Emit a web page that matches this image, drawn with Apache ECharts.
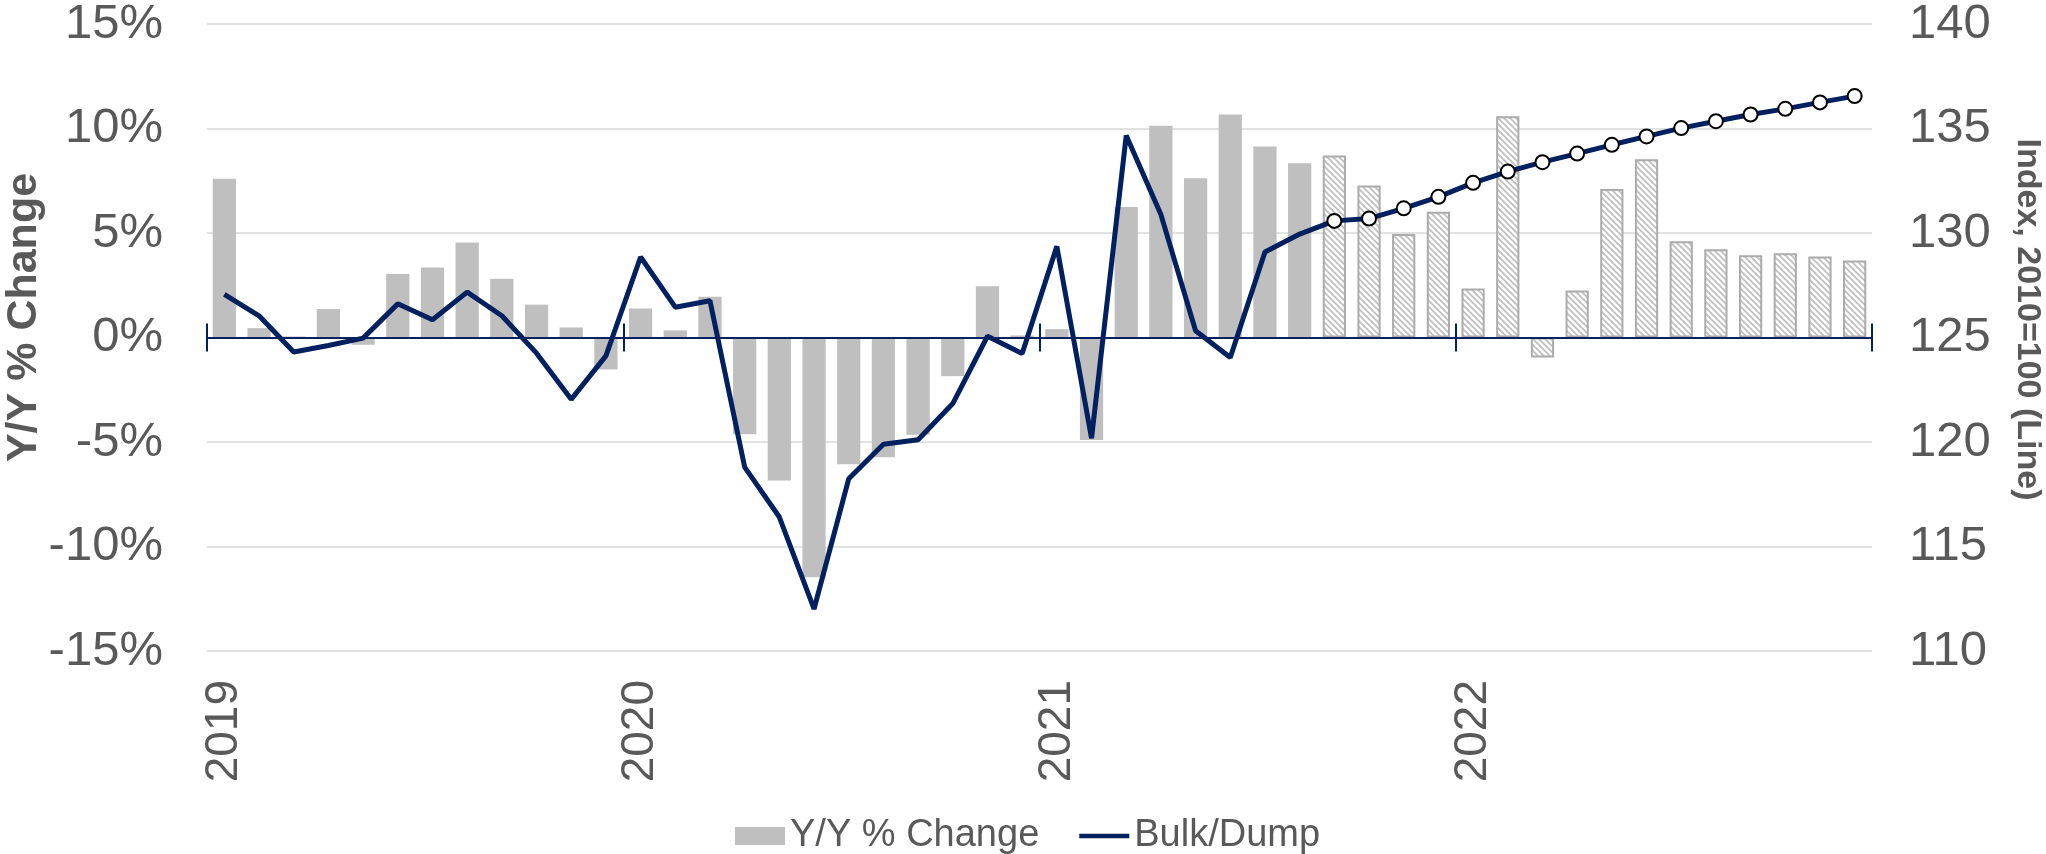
<!DOCTYPE html>
<html>
<head>
<meta charset="utf-8">
<script src="https://cdn.jsdelivr.net/npm/echarts@6/dist/echarts.min.js"></script>
<style>
  html, body { margin: 0; padding: 0; background: #fff; }
  #chart { width: 2046px; height: 854px; }
</style>
</head>
<body>
<div id="chart"></div>
<script>
const months = [
    '2019-01', '2019-02', '2019-03', '2019-04', '2019-05', '2019-06', '2019-07', '2019-08', '2019-09', '2019-10', '2019-11', '2019-12',
    '2020-01', '2020-02', '2020-03', '2020-04', '2020-05', '2020-06', '2020-07', '2020-08', '2020-09', '2020-10', '2020-11', '2020-12',
    '2021-01', '2021-02', '2021-03', '2021-04', '2021-05', '2021-06', '2021-07', '2021-08', '2021-09', '2021-10', '2021-11', '2021-12',
    '2022-01', '2022-02', '2022-03', '2022-04', '2022-05', '2022-06', '2022-07', '2022-08', '2022-09', '2022-10', '2022-11', '2022-12'
];

// Y/Y % change (bars, left axis)
const yoyChange = [
    7.60, 0.45, 0.05, 1.36, -0.35, 3.04, 3.35, 4.54, 2.81, 1.57, 0.48, -1.53,
    1.39, 0.34, 1.95, -4.63, -6.84, -11.47, -6.07, -5.73, -4.65, -1.85, 2.45, 0.10,
    0.40, -4.90, 6.25, 10.13, 7.62, 10.67, 9.14, 8.34, 8.71, 7.27, 4.95, 6.02,
    2.35, 10.59, -0.96, 2.25, 7.11, 8.53, 4.60, 4.22, 3.93, 4.03, 3.87, 3.69
];

// Bulk/Dump index, 2010=100 (line, right axis)
const bulkDump = [
    127.06, 126.04, 124.31, 124.62, 124.97, 126.61, 125.85, 127.17, 126.04, 124.25, 122.04, 124.12,
    128.85, 126.45, 126.76, 118.80, 116.41, 112.01, 118.24, 119.89, 120.11, 121.84, 125.06, 124.23,
    129.36, 120.18, 134.66, 130.88, 125.32, 124.04, 129.09, 129.95, 130.58, 130.69, 131.18, 131.73,
    132.40, 132.94, 133.39, 133.80, 134.22, 134.62, 135.02, 135.35, 135.67, 135.94, 136.25, 136.55
];

// first forecast month (hatched bars, marked line)
const forecastStart = '2021-09';

const navy = '#002060';
const textColor = '#595959';
const fontFamily = '"Liberation Sans", Arial, sans-serif';

function makeHatch() {
    const c = document.createElement('canvas');
    c.width = 6;
    c.height = 6;
    const ctx = c.getContext('2d');
    ctx.fillStyle = '#fff';
    ctx.fillRect(0, 0, 6, 6);
    ctx.strokeStyle = '#BDBDBD';
    ctx.lineWidth = 1.6;
    ctx.beginPath();
    ctx.moveTo(-1, -1); ctx.lineTo(7, 7);
    ctx.moveTo(-1, 5); ctx.lineTo(1, 7);
    ctx.moveTo(5, -1); ctx.lineTo(7, 1);
    ctx.stroke();
    return c;
}

const hatch = makeHatch();
const fcIdx = months.indexOf(forecastStart);

const barData = yoyChange.map((v, i) => i < fcIdx ? v : {
    value: v,
    itemStyle: { color: { image: hatch, repeat: 'repeat' }, borderColor: '#ABABAB', borderWidth: 2 }
});

const lineData = bulkDump.map((v, i) => i < fcIdx ? v : {
    value: v,
    symbol: 'circle',
    symbolSize: 14,
    itemStyle: { color: '#fff', borderColor: '#000', borderWidth: 2 }
});

const yearTick = (i) => i % 12 === 0;

const chart = echarts.init(document.getElementById('chart'));
chart.setOption({
    animation: false,
    textStyle: { fontFamily: fontFamily },
    grid: { left: 207, right: 174, top: 24, bottom: 203, outerBoundsMode: 'none' },
    legend: {
        data: [
            { name: 'Y/Y % Change', icon: 'rect' },
            { name: 'Bulk/Dump', icon: 'path://M0,0L56,0L56,5L0,5Z', itemStyle: { color: navy } }
        ],
        left: 730,
        top: 812,
        itemWidth: 50,
        itemHeight: 18,
        itemGap: 40,
        textStyle: { fontSize: 38, color: textColor, fontFamily: fontFamily }
    },
    xAxis: [{
        type: 'category',
        data: months,
        position: 'bottom',
        axisLine: { show: false, onZero: false },
        axisTick: { show: false },
        axisLabel: {
            interval: (i) => yearTick(i),
            rotate: 90,
            margin: 29,
            fontSize: 46,
            color: textColor,
            formatter: (v) => v.slice(0, 4)
        }
    }, {
        type: 'category',
        data: months,
        position: 'bottom',
        z: 3,
        axisLine: { onZero: true, onZeroAxisIndex: 0, lineStyle: { color: navy, width: 2 } },
        axisTick: { show: true, interval: (i) => yearTick(i), inside: false, length: 14, lineStyle: { color: navy, width: 2 } },
        axisLabel: { show: false }
    }, {
        type: 'category',
        data: months,
        position: 'bottom',
        z: 3,
        axisLine: { show: false, onZero: true, onZeroAxisIndex: 0 },
        axisTick: { show: true, interval: (i) => yearTick(i), inside: true, length: 14, lineStyle: { color: navy, width: 2 } },
        axisLabel: { show: false }
    }],
    yAxis: [{
        type: 'value',
        min: -15,
        max: 15,
        interval: 5,
        name: 'Y/Y % Change',
        nameLocation: 'middle',
        nameGap: 161,
        nameMoveOverlap: false,
        nameTextStyle: { fontSize: 43, fontWeight: 'bold', color: textColor, padding: [0, 0, 0, 40] },
        axisLine: { show: false },
        axisTick: { show: false },
        axisLabel: { formatter: '{value}%', fontSize: 49, color: textColor, margin: 44 },
        splitLine: { lineStyle: { color: '#D9D9D9', width: 1.5 } }
    }, {
        type: 'value',
        min: 110,
        max: 140,
        interval: 5,
        position: 'right',
        name: 'Index, 2010=100 (Line)',
        nameLocation: 'middle',
        nameRotate: -90,
        nameGap: 138,
        nameMoveOverlap: false,
        nameTextStyle: { fontSize: 34, fontWeight: 'bold', color: textColor, padding: [0, 36, 0, 0] },
        axisLine: { show: false },
        axisTick: { show: false },
        axisLabel: { fontSize: 49, color: textColor, margin: 37 },
        splitLine: { show: false }
    }],
    series: [{
        name: 'Y/Y % Change',
        type: 'bar',
        xAxisIndex: 0,
        yAxisIndex: 0,
        barWidth: '67%',
        z: 2,
        itemStyle: { color: '#BFBFBF' },
        data: barData
    }, {
        name: 'Bulk/Dump',
        type: 'line',
        xAxisIndex: 0,
        yAxisIndex: 1,
        z: 5,
        symbol: 'none',
        showSymbol: true,
        lineStyle: { color: navy, width: 5 },
        itemStyle: { color: navy },
        data: lineData
    }]
});
</script>
</body>
</html>
